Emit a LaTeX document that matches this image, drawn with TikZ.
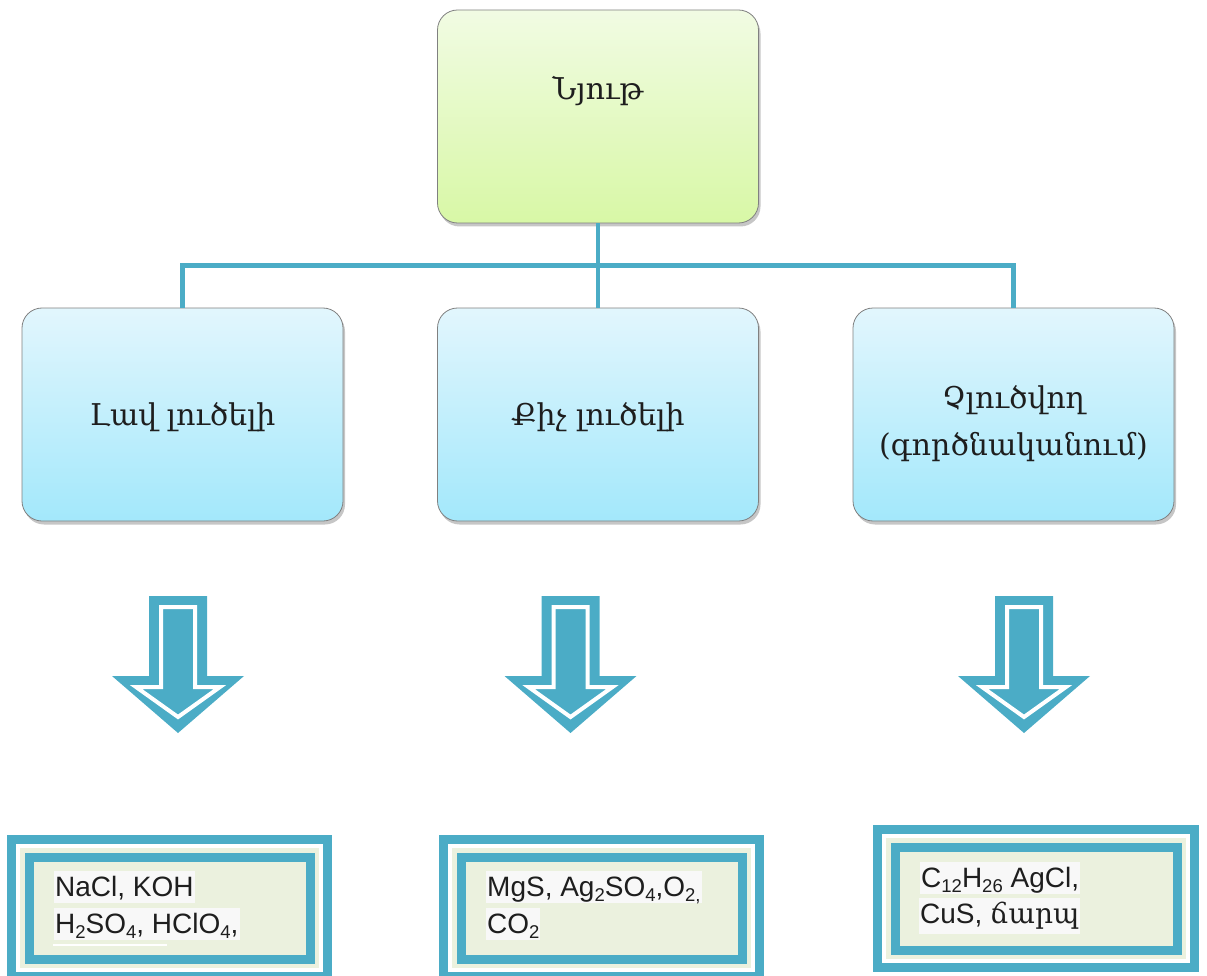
\documentclass[tikz,border=0pt]{standalone}
\usepackage{fontspec}
\setmainfont{Liberation Sans}
\newfontfamily\armfont{DejaVu Serif}
\usetikzlibrary{shadows,calc}
\definecolor{acc}{HTML}{4BACC6}
\definecolor{lgreen}{HTML}{EBF1DE}
\definecolor{hlgray}{HTML}{F8F8F8}
\definecolor{gtop}{HTML}{F1FBE3}
\definecolor{gbot}{HTML}{D8F8A6}
\definecolor{btop}{HTML}{E2F6FD}
\definecolor{bbot}{HTML}{A3E8FB}
\definecolor{txt}{HTML}{1E1E1E}
\newcommand\sbs[1]{\raisebox{-0.18em}{\fontsize{18.5}{18.5}\selectfont #1}}
\newcommand\tframe[4]{%
  \fill[acc] (#1,#2) rectangle (#3,#4);
  \fill[white] ($(#1,#2)+(9,9)$) rectangle ($(#3,#4)+(-9,-9)$);
  \fill[lgreen] ($(#1,#2)+(13,13)$) rectangle ($(#3,#4)+(-13,-13)$);
  \fill[acc] ($(#1,#2)+(18,18)$) rectangle ($(#3,#4)+(-17,-17)$);
  \fill[lgreen] ($(#1,#2)+(27,27)$) rectangle ($(#3,#4)+(-26,-26)$);
}
\begin{document}
\begin{tikzpicture}[x=1pt,y=-1pt,
  rbox/.style={rounded corners=20pt, draw=black!50, line width=0.8pt,
    minimum width=321pt, minimum height=213pt, inner sep=0pt,
    drop shadow={opacity=0.45, shadow xshift=2pt, shadow yshift=-3.5pt}},
  greenbox/.style={rbox, top color=gtop, bottom color=gbot},
  bluebox/.style={rbox, top color=btop, bottom color=bbot},
  armtext/.style={font=\armfont\fontsize{30}{36}\selectfont, text=txt, inner sep=0pt, anchor=base},
  chem/.style={font=\fontsize{28}{37}\selectfont, text=txt, fill=hlgray, inner xsep=1pt, inner ysep=0pt,
    text height=25.5pt, text depth=6.5pt, anchor=base west},
  conn/.style={acc, line width=4.5pt},
  bigarrow/.pic={
    \fill[acc] (-29,0) -- (29,0) -- (29,80) -- (66,80) -- (0,137) -- (-66,80) -- (-29,80) -- cycle;
    \filldraw[fill=acc, draw=white, line width=4pt, line join=miter]
      (-17,11) -- (17,11) -- (17,91) -- (42,91) -- (0,121) -- (-42,91) -- (-17,91) -- cycle;
  }]
\useasboundingbox (0,0) rectangle (1207,976);

% top and middle boxes
\node[greenbox] (top) at (598,116.5) {};
\node[bluebox] (left) at (182.5,414.5) {};
\node[bluebox] (mid) at (598,414.5) {};
\node[bluebox] (right) at (1013.5,414.5) {};

\draw[conn] (top.south) -- (mid.north);
\draw[conn] (left.north) -- ++(0,-42) -| (right.north);

\node[armtext] (ttop) at ($(top.center)+(0,-16.5)$) {Նյութ};
\node[armtext] (tleft) at ($(left.center)+(0,10.5)$) {Լավ լուծելի};
\node[armtext] (tmid) at ($(mid.center)+(0,10.5)$) {Քիչ լուծելի};
\node[armtext] (tright1) at ($(right.center)+(0,-6.5)$) {Չլուծվող};
\node[armtext] (tright2) at ($(right.center)+(0,40.5)$) {(գործնականում)};

% arrows
\pic (a1) at (178,596) {bigarrow};
\pic (a2) at (570.5,596) {bigarrow};
\pic (a3) at (1024,596) {bigarrow};

% bottom frames
\tframe{7}{835}{332}{981}
\tframe{439}{835}{764}{981}
\tframe{873}{825}{1199}{972}

\node[chem] (b1a) at (54,896) {NaCl, KOH};
\node[chem] (b1b) at (54,933) {H\sbs{2}SO\sbs{4}, HClO\sbs{4},};
\draw[white, line width=2pt] (53,945) -- (167,945);

\node[chem] (b2a) at (486,896) {MgS, Ag\sbs{2}SO\sbs{4},O\sbs{2,}};
\node[chem] (b2b) at (486,933) {CO\sbs{2}};

\node[chem] (b3a) at (920,887) {C\sbs{12}H\sbs{26} AgCl,};
\node[chem, text depth=11pt] (b3b) at (919,923) {CuS, {\armfont ճարպ}};
\end{tikzpicture}
\end{document}
